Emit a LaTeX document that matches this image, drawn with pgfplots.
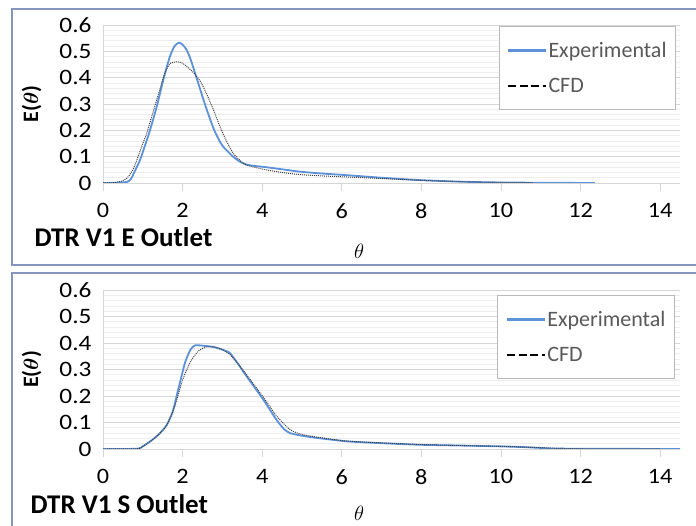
\documentclass[border=0pt]{standalone}
\usepackage{graphicx}
\usepackage{pgfplots}
\pgfplotsset{compat=1.18}
\usepackage{fontspec}
\setmainfont{Carlito}

\definecolor{expblue}{RGB}{91,146,218}
\definecolor{framec}{RGB}{132,150,192}
\definecolor{gridmaj}{RGB}{214,214,214}
\definecolor{gridmin}{RGB}{238,238,238}
\definecolor{txtgray}{RGB}{89,89,89}

\pgfplotstableread{
x y
0 0
0.3 0.001
0.6 0.004
0.7 0.015
0.8 0.045
0.93 0.087
1.05 0.14
1.18 0.2
1.35 0.29
1.53 0.4
1.68 0.48
1.8 0.52
1.91 0.533
2.0 0.525
2.1 0.506
2.2 0.47
2.35 0.40
2.56 0.30
2.77 0.21
2.9 0.168
3.02 0.138
3.27 0.10
3.44 0.081
3.61 0.07
3.8 0.065
4.1 0.060
4.5 0.052
4.95 0.043
5.5 0.036
6.1 0.030
7.0 0.02
7.96 0.011
9.0 0.005
9.97 0.002
11 0.001
12.36 0.0
}\expE
\pgfplotstableread{
x y
0 0
0.25 0.001
0.45 0.006
0.6 0.018
0.75 0.05
0.85 0.087
1.0 0.15
1.1 0.19
1.35 0.316
1.56 0.42
1.7 0.455
1.85 0.46
2.0 0.455
2.27 0.42
2.45 0.385
2.6 0.34
2.77 0.28
2.94 0.214
3.1 0.16
3.27 0.113
3.45 0.085
3.6 0.068
4.1 0.05
4.5 0.04
4.95 0.032
5.5 0.027
6.1 0.023
7.0 0.017
8.0 0.01
9.0 0.005
10.0 0.002
10.8 0.001
}\cfdE
\pgfplotstableread{
x y
0 0
0.85 0.001
1.0 0.01
1.2 0.03
1.4 0.055
1.6 0.09
1.75 0.14
1.85 0.2
2.06 0.325
2.2 0.375
2.31 0.391
2.5 0.39
2.77 0.385
3.0 0.375
3.19 0.362
3.4 0.32
3.61 0.274
4.03 0.186
4.36 0.11
4.55 0.075
4.7 0.06
5.0 0.05
5.37 0.042
6.12 0.029
7.0 0.022
7.96 0.016
9.0 0.013
9.97 0.01
10.6 0.007
11.3 0.002
12 0.001
14.5 0.0
}\expS
\pgfplotstableread{
x y
0 0
0.85 0.001
1.0 0.01
1.2 0.03
1.4 0.055
1.6 0.09
1.8 0.16
2.0 0.26
2.2 0.33
2.4 0.37
2.6 0.385
2.8 0.385
3.0 0.375
3.2 0.355
3.4 0.32
3.61 0.28
4.03 0.195
4.36 0.125
4.7 0.073
5.0 0.055
5.37 0.045
6.12 0.03
7.0 0.023
7.96 0.017
9.0 0.013
9.97 0.01
10.6 0.007
11.3 0.003
12 0.001
14.0 0.0
}\cfdS

\pgfplotsset{
  rtd/.style={
    scale only axis, width=577bp,
    xmin=0, xmax=14.5, ymin=0, ymax=0.6,
    xtick={0,2,4,6,8,10,12,14},
    ytick={0,0.1,0.2,0.3,0.4,0.5,0.6},
    minor y tick num=4,
    ymajorgrids, yminorgrids,
    major grid style={gridmaj, line width=0.8bp},
    minor grid style={gridmin, line width=0.6bp},
    axis x line*=bottom, axis y line*=left,
    axis line style={gridmaj, line width=0.8bp, -},
    tick align=outside, major tick length=8bp, minor tick length=0pt,
    xtick style={gridmaj, line width=0.8bp},
    ytick style={draw=none},
    /pgf/number format/assume math mode=true,
    tick label style={font=\fontsize{22bp}{25bp}\selectfont, black},
    xticklabel={\scalebox{1.1}[1]{\pgfmathprintnumber{\tick}}},
    yticklabel={\scalebox{1.15}[1]{\pgfmathprintnumber{\tick}}},
    xticklabel style={yshift=-9bp},
    legend cell align=left,
    legend style={draw=gray!55, line width=0.8bp, fill=white,
      font=\fontsize{22bp}{25bp}\selectfont,
      nodes={inner xsep=1bp, inner ysep=3bp},
      inner xsep=8bp, inner ysep=13bp, row sep=13bp},
  },
  expline/.style={expblue, line width=1.8bp, smooth, tension=0.4,
    legend image code/.code={\draw[expblue, line width=2.6bp] (0bp,0bp) -- (38bp,0bp);}},
  cfdline/.style={black!75, line width=1bp, dash pattern=on 1bp off 1bp, smooth, tension=0.4,
    legend image code/.code={\draw[black, line width=2.6bp, dash pattern=on 8bp off 3.5bp] (0bp,0bp) -- (38bp,0bp);}},
}

\begin{document}
\begin{tikzpicture}
\useasboundingbox (0,0) rectangle (696bp,526bp);
\clip (0,0) rectangle (696bp,526bp);

\draw[framec, line width=1.5bp] (12bp,261bp) rectangle (720bp,517bp);
\draw[framec, line width=1.5bp] (12bp,-30bp) rectangle (720bp,253bp);

\begin{axis}[rtd, height=158bp, at={(103bp,343bp)}, anchor=south west,
  legend style={at={(0.993,0.994)}, anchor=north east}]
  \addplot[expline] table {\expE};
  \addlegendentry{\textcolor{txtgray}{Experimental}}
  \addplot[cfdline] table {\cfdE};
  \addlegendentry{\textcolor{txtgray}{CFD}}
\end{axis}

\begin{axis}[rtd, height=159bp, at={(103bp,77bp)}, anchor=south west,
  legend style={at={(0.991,0.969)}, anchor=north east}]
  \addplot[expline] table {\expS};
  \addlegendentry{\textcolor{txtgray}{Experimental}}
  \addplot[cfdline] table {\cfdS};
  \addlegendentry{\textcolor{txtgray}{CFD}}
\end{axis}

\node[anchor=base west, font=\bfseries\fontsize{27bp}{30bp}\selectfont] at (31bp,279bp) {DTR V1 E Outlet};
\node[anchor=base west, font=\bfseries\fontsize{27bp}{30bp}\selectfont] at (27bp,13bp) {DTR V1 S Outlet};
\node[font=\fontsize{20bp}{22bp}\selectfont] at (359bp,274.5bp) {$\theta$};
\node[font=\fontsize{19bp}{21bp}\selectfont] at (359bp,13bp) {$\theta$};
\node[rotate=90, font=\bfseries\boldmath\fontsize{22bp}{25bp}\selectfont] at (31.5bp,422bp) {E($\theta$)};
\node[rotate=90, font=\bfseries\boldmath\fontsize{22bp}{25bp}\selectfont] at (31.5bp,156.5bp) {E($\theta$)};
\end{tikzpicture}
\end{document}
